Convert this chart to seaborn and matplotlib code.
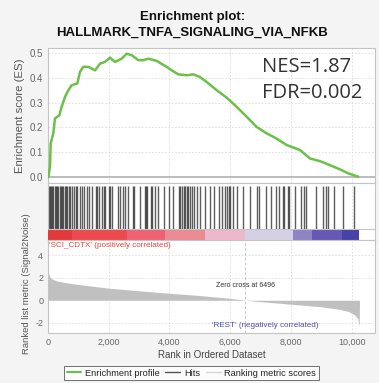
import matplotlib
matplotlib.use("Agg")
import matplotlib.pyplot as plt
from matplotlib.lines import Line2D
from matplotlib.ticker import FuncFormatter
import seaborn as sns
import numpy as np
import pandas as pd

# enrichment score curve (rank, ES)
es_rank = [10, 66, 88, 175, 230, 373, 450, 560, 670, 780, 965, 1054, 1163, 1328, 1548,
           1713, 1877, 2042, 2207, 2426, 2591, 2756, 2975, 3140, 3305, 3579, 3909, 4074,
           4293, 4567, 4787, 5006, 5226, 5555, 5884, 6213, 6542, 6871, 7201, 7530, 7859,
           8298, 8627, 8957, 9286, 9616, 9890, 10219]
es_score = [0.0, 0.042, 0.135, 0.176, 0.236, 0.249, 0.283, 0.323, 0.35, 0.37, 0.377, 0.424,
            0.444, 0.444, 0.43, 0.457, 0.464, 0.481, 0.464, 0.477, 0.497, 0.491, 0.471, 0.471,
            0.477, 0.468, 0.444, 0.43, 0.414, 0.41, 0.414, 0.403, 0.383, 0.35, 0.32, 0.283,
            0.243, 0.202, 0.176, 0.155, 0.129, 0.109, 0.075, 0.064, 0.048, 0.031, 0.015, 0.001]

# positions of gene set members in the ranked list
hit_ranks = [33, 66, 100, 130, 165, 230, 260, 300, 329, 395, 430, 460, 494, 560, 600, 626,
             680, 724, 790, 850, 922, 955, 1054, 1120, 1185, 1284, 1350, 1449, 1581, 1614,
             1679, 1778, 1844, 1877, 2009, 2042, 2108, 2305, 2371, 2470, 2536, 2634, 2799,
             2832, 3030, 3194, 3227, 3260, 3392, 3425, 3524, 3622, 3820, 3985, 4116, 4314,
             4347, 4413, 4478, 4511, 4577, 4610, 4676, 4742, 4808, 4906, 5005, 5170, 5335,
             5466, 5631, 5730, 5829, 5894, 5960, 5993, 6092, 6224, 6421, 6652, 6882, 6948,
             7179, 7343, 7508, 7607, 7738, 7771, 7903, 7936, 8134, 8331, 8430, 8496, 8826,
             9056, 9155, 9220, 9418, 9714, 10076]

# ranked list metric (Signal2Noise)
metric_rank = [0, 30, 80, 150, 300, 600, 1000, 2000, 3000, 4000, 5000, 6000, 6496, 7000,
               8000, 9000, 9600, 9900, 10100, 10200, 10250, 10260]
metric_value = [2.65, 2.3, 2.0, 1.85, 1.7, 1.55, 1.4, 1.07, 0.84, 0.62, 0.42, 0.17, 0.0,
                -0.12, -0.35, -0.58, -0.8, -1.0, -1.3, -1.6, -2.3, 0.0]

# colour bar segments
bar_edges = [0, 780, 2590, 3850, 5170, 6490, 8080, 8680, 9670, 10240]
bar_colors = ["#e23a3a", "#ec4a4e", "#ee6274", "#ea8a92", "#eeb8cc", "#d6d0e6",
              "#8e84c6", "#6858b6", "#4642a6"]

x_ticks = [0, 2000, 4000, 6000, 8000, 10000]
zero_cross = 6496

sns.set_style("whitegrid")
plt.rcParams["font.family"] = ["Liberation Sans", "DejaVu Sans"]
plt.rcParams["axes.unicode_minus"] = False

green = "#6cc04a"
spine_c = "#c4c4c4"
grid_kw = dict(color="#dcdcdc", linestyle=(0, (2, 2)), linewidth=0.6)

fig = plt.figure(figsize=(3.79, 3.83), dpi=100, facecolor="#f4f4f4")
L, W = 48 / 379, 327 / 379
ax1 = fig.add_axes([L, 1 - 183 / 383, W, 135 / 383])
ax2 = fig.add_axes([L, 1 - 240 / 383, W, 57 / 383])
ax3 = fig.add_axes([L, 1 - 333 / 383, W, 93 / 383])

xmax = 10770
for ax in (ax1, ax2, ax3):
    ax.set_facecolor("white")
    ax.set_xlim(0, xmax)
    ax.grid(False)
    for s in ax.spines.values():
        s.set_color(spine_c)
        s.set_linewidth(0.8)
    for xv in x_ticks[1:]:
        ax.axvline(xv, zorder=0, **grid_kw)

# --- enrichment score panel
df_es = pd.DataFrame({"rank": es_rank, "es": es_score})
ax1.set_ylim(-0.024, 0.52)
for yv in [0.1, 0.2, 0.3, 0.4, 0.5]:
    ax1.axhline(yv, zorder=0, **grid_kw)
ax1.axhline(0, color="#b0b0b0", lw=1.2, zorder=1)
sns.lineplot(data=df_es, x="rank", y="es", ax=ax1, color=green, lw=1.8, zorder=3)
ax1.set_xticks(x_ticks)
ax1.set_xticklabels([])
ax1.set_yticks([0.0, 0.1, 0.2, 0.3, 0.4, 0.5])
ax1.yaxis.set_major_formatter(FuncFormatter(lambda v, p: f"{v:.1f}"))
ax1.tick_params(axis="y", labelsize=7, colors="#666666", length=2, width=0.6, pad=1.5)
ax1.tick_params(axis="x", length=0)
ax1.set_xlabel("")
ax1.set_ylabel("Enrichment score (ES)", fontsize=8.2, color="#555555")
ax1.yaxis.set_label_coords(-0.07, 0.5)
ax1.text(0.655, 0.86, "NES=1.87", transform=ax1.transAxes, fontsize=14.5,
         family="Open Sans", color="#333333", va="center", ha="left")
ax1.text(0.655, 0.665, "FDR=0.002", transform=ax1.transAxes, fontsize=14.5,
         family="Open Sans", color="#333333", va="center", ha="left")

# --- hits + colour bar panel
ax2.set_ylim(0, 1)
ax2.vlines(hit_ranks, 0.193, 0.95, color="#111111", lw=1.0, alpha=0.68, zorder=2)
for i, c in enumerate(bar_colors):
    ax2.axvspan(bar_edges[i], bar_edges[i + 1], ymin=0, ymax=0.193, color=c, lw=0, zorder=3)
ax2.axhline(0.193, color=spine_c, lw=0.8, zorder=4)
ax2.set_xticks([])
ax2.set_yticks([])

# --- ranked list metric panel
ax3.set_ylim(-2.9, 5.34)
for yv in [4, 2, -2]:
    ax3.axhline(yv, zorder=0, **grid_kw)
ax3.axvline(zero_cross, color="#c8c8c8", linestyle=(0, (3, 2)), lw=0.7, zorder=0)
ax3.fill_between(metric_rank, metric_value, 0, color="#c0c0c0", lw=0, zorder=2)
ax3.set_xticks(x_ticks)
ax3.xaxis.set_major_formatter(FuncFormatter(lambda v, p: f"{int(v):,}"))
ax3.set_yticks([4, 2, 0, -2])
ax3.tick_params(labelsize=6.5, colors="#666666", length=2, width=0.6, pad=1.5)
ax3.set_xlabel("Rank in Ordered Dataset", fontsize=7, color="#444444", labelpad=2)
ax3.set_ylabel("Ranked list metric (Signal2Noise)", fontsize=6.8, color="#555555")
ax3.yaxis.set_label_coords(-0.052, 0.53)
ax3.text(40, 4.85, "'SCI_CDTX' (positively correlated)", fontsize=5.8, color="#e8453c",
         ha="left", va="center")
ax3.text(zero_cross + 20, 1.35, "Zero cross at 6496", fontsize=5.0, color="#333333",
         ha="center", va="center")
ax3.text(7150, -2.26, "'REST' (negatively correlated)", fontsize=5.8, color="#4c4cb0",
         ha="center", va="center")

# --- title
fig.text(0.507, 0.956, "Enrichment plot:", fontsize=9.5, weight="bold", ha="center",
         va="center", color="#111111")
fig.text(0.507, 0.914, "HALLMARK_TNFA_SIGNALING_VIA_NFKB", fontsize=9.5, weight="bold",
         ha="center", va="center", color="#111111")

# --- legend
handles = [Line2D([], [], color=green, lw=1.5),
           Line2D([], [], color="#555555", lw=1.0),
           Line2D([], [], color="#d6d6d6", lw=1.0)]
leg = fig.legend(handles, ["Enrichment profile", "Hits", "Ranking metric scores"],
                 loc="center", bbox_to_anchor=(0.505, 0.026), ncol=3, fontsize=6.7,
                 frameon=True, fancybox=False, handlelength=1.6, handletextpad=0.4,
                 columnspacing=0.6, borderpad=0.3)
leg.get_frame().set_edgecolor("#333333")
leg.get_frame().set_linewidth(0.6)

fig.savefig("out.png", dpi=100, facecolor=fig.get_facecolor())
